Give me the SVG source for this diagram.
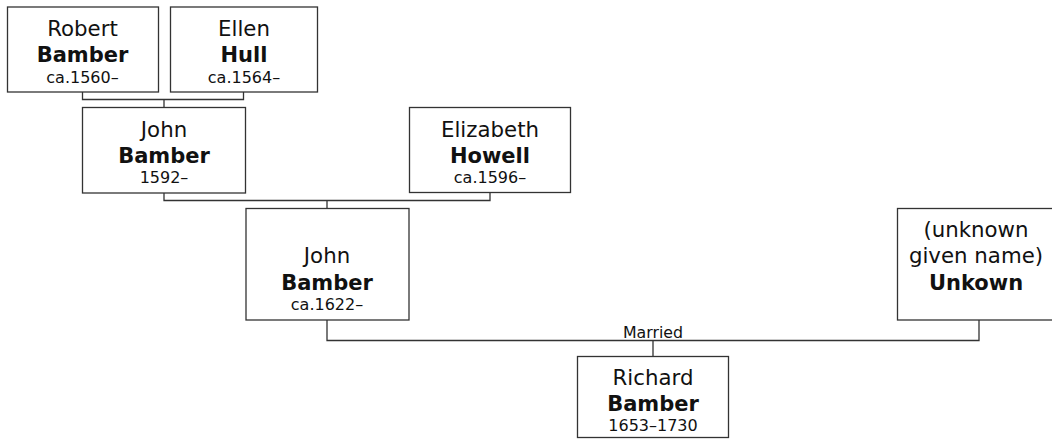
<svg xmlns="http://www.w3.org/2000/svg" width="1052" height="441" viewBox="0 0 1052 441">
<style>
rect.n{fill:#fff;stroke:#333;stroke-width:1.3}
.c path{fill:none;stroke:#333;stroke-width:1.3}
text{font-family:"DejaVu Sans",Verdana,sans-serif;text-anchor:middle;fill:#111}
.g{font-size:21.3px}
.s{font-size:21px;font-weight:bold}
.d{font-size:16px}
.m{font-size:15.8px}
</style>
<rect width="1052" height="441" fill="#fff"/>
<g class="c" id="connectors">
<path d="M82.5 92V99.5H243.5V92M164 99.5V107"/>
<path d="M164 193V200.5H490V192.5M327 200.5V208"/>
<path d="M327 320V340.5H979V320M653 340.5V356"/>
<text class="m" x="653" y="338">Married</text>
</g>
<g id="robert"><rect class="n" x="7.5" y="7" width="151" height="85"/>
<text class="g" x="82.5" y="36">Robert</text><text class="s" x="82.5" y="61.5">Bamber</text><text class="d" x="82.5" y="82.5">ca.1560–</text></g>
<g id="ellen"><rect class="n" x="170.5" y="7" width="147" height="85"/>
<text class="g" x="244" y="36">Ellen</text><text class="s" x="244" y="61.5">Hull</text><text class="d" x="244" y="82.5">ca.1564–</text></g>
<g id="john1"><rect class="n" x="82.5" y="107.5" width="163" height="85.5"/>
<text class="g" x="164" y="136.5">John</text><text class="s" x="164" y="162.5">Bamber</text><text class="d" x="164" y="183">1592–</text></g>
<g id="elizabeth"><rect class="n" x="409.5" y="107.5" width="161" height="85"/>
<text class="g" x="490" y="136.5">Elizabeth</text><text class="s" x="490" y="162.5">Howell</text><text class="d" x="490" y="183">ca.1596–</text></g>
<g id="john2"><rect class="n" x="246" y="208.5" width="163" height="111.5"/>
<text class="g" x="327" y="263">John</text><text class="s" x="327" y="290">Bamber</text><text class="d" x="327" y="310">ca.1622–</text></g>
<g id="unknown"><rect class="n" x="897.5" y="208.5" width="164" height="111.5"/>
<text class="g" x="976" y="237">(unknown</text><text class="g" x="976" y="263">given name)</text><text class="s" x="976" y="290">Unkown</text></g>
<g id="richard"><rect class="n" x="577.5" y="356.5" width="151" height="81"/>
<text class="g" x="653" y="385">Richard</text><text class="s" x="653" y="411">Bamber</text><text class="d" x="653" y="431">1653–1730</text></g>
</svg>
